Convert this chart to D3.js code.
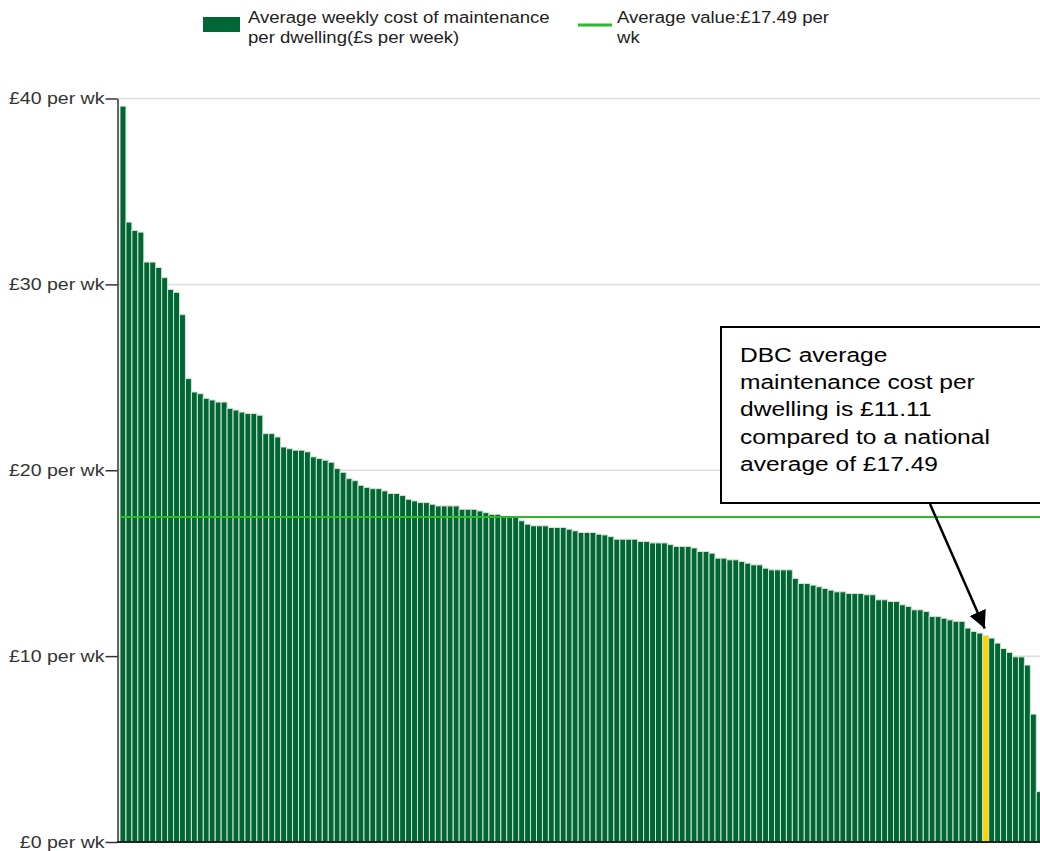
<!DOCTYPE html>
<html>
<head>
<meta charset="utf-8">
<script src="https://cdn.jsdelivr.net/npm/d3@7"></script>
<style>
  body { margin: 0; background: #fff; }
  svg { display: block; font-family: Arial, "Liberation Sans", sans-serif; }
</style>
</head>
<body>
<svg width="1040" height="851"></svg>
<script>
// average weekly maintenance cost per dwelling, sorted high to low (£ per week)
const values = [
	39.59, 33.35, 32.90, 32.81, 31.20, 31.20, 30.91, 30.36, 29.73, 29.57,
	28.37, 24.93, 24.21, 24.12, 23.87, 23.78, 23.67, 23.67, 23.33, 23.24,
	23.13, 23.05, 23.05, 22.96, 21.97, 21.97, 21.79, 21.25, 21.16, 21.08,
	21.08, 20.99, 20.72, 20.63, 20.54, 20.43, 20.09, 19.89, 19.55, 19.44,
	19.19, 19.08, 19.01, 19.01, 18.89, 18.75, 18.75, 18.64, 18.44, 18.35,
	18.26, 18.26, 18.17, 18.08, 18.08, 18.08, 18.08, 17.90, 17.90, 17.90,
	17.81, 17.72, 17.63, 17.63, 17.52, 17.50, 17.50, 17.28, 17.10, 17.01,
	17.01, 17.01, 16.92, 16.92, 16.92, 16.83, 16.74, 16.65, 16.65, 16.65,
	16.56, 16.52, 16.43, 16.29, 16.29, 16.29, 16.29, 16.17, 16.17, 16.09,
	16.09, 16.09, 16.00, 15.90, 15.90, 15.90, 15.82, 15.63, 15.63, 15.54,
	15.27, 15.27, 15.18, 15.18, 15.09, 15.00, 14.91, 14.91, 14.73, 14.64,
	14.64, 14.64, 14.64, 14.18, 13.91, 13.91, 13.82, 13.73, 13.64, 13.55,
	13.46, 13.46, 13.37, 13.37, 13.37, 13.30, 13.30, 13.03, 13.03, 12.94,
	12.94, 12.76, 12.67, 12.49, 12.49, 12.40, 12.13, 12.13, 12.04, 11.95,
	11.87, 11.87, 11.51, 11.33, 11.24, 11.11, 10.97, 10.70, 10.41, 10.20,
	9.96, 9.96, 9.52, 6.88, 2.71
];
const highlightIndex = 145;   // DBC
const averageValue = 17.49;
const yTicks = [0, 10, 20, 30, 40];
const legendLabels = [
	["Average weekly cost of maintenance", "per dwelling(£s per week)"],
	["Average value:£17.49 per", "wk"]
];
const noteLines = [
	"DBC average",
	"maintenance cost per",
	"dwelling is £11.11",
	"compared to a national",
	"average of £17.49"
];

const svg = d3.select("svg");
const barColor = "#006633";
const highlightColor = "#ffd200";
const avgColor = "#2dba2d";

const x = d3.scaleBand()
	.domain(d3.range(values.length))
	.range([120, 120 + values.length * 5.95])
	.padding(0);

const y = d3.scaleLinear()
	.domain([0, 40])
	.range([842, 98.5]);

// gridlines
svg.append("g")
	.selectAll("line")
	.data(yTicks.filter(d => d > 0))
	.enter().append("line")
	.attr("x1", 117).attr("x2", 1040)
	.attr("y1", d => y(d)).attr("y2", d => y(d))
	.attr("stroke", "#dddddd")
	.attr("stroke-width", 1.5);

// bars
svg.append("g")
	.selectAll("rect")
	.data(values)
	.enter().append("rect")
	.attr("x", (d, i) => x(i))
	.attr("width", x.bandwidth())
	.attr("y", d => y(d))
	.attr("height", d => y(0) - y(d))
	.attr("fill", (d, i) => i === highlightIndex ? highlightColor : barColor)
	.attr("stroke", "#d4e4d4")
	.attr("stroke-width", 1);

// average line
svg.append("line")
	.attr("x1", 120).attr("x2", 1040)
	.attr("y1", y(averageValue)).attr("y2", y(averageValue))
	.attr("stroke", avgColor)
	.attr("stroke-width", 2);

// y axis
const yAxis = svg.append("g")
	.attr("transform", "translate(117.5,0)")
	.call(d3.axisLeft(y)
		.tickValues(yTicks)
		.tickSize(12)
		.tickSizeOuter(0)
		.tickFormat(d => "£" + d + " per wk"));
yAxis.select(".domain").attr("stroke", "#333").attr("stroke-width", 1.5);
yAxis.selectAll(".tick line").attr("stroke", "#333").attr("stroke-width", 1.5);
// labels a bit wide, like the original
yAxis.selectAll(".tick text")
	.attr("x", 0)
	.attr("transform", "translate(-13,0) scale(1.15,1)")
	.attr("fill", "#333")
	.style("font-size", "17px")
	.style("font-family", "Arial, 'Liberation Sans', sans-serif");

// baseline
svg.append("line")
	.attr("x1", 117).attr("x2", 1040)
	.attr("y1", y(0)).attr("y2", y(0))
	.attr("stroke", "#222")
	.attr("stroke-width", 2);

// legend
const legend = svg.append("g").style("font-size", "16px").attr("fill", "#222");
legend.append("rect")
	.attr("x", 203).attr("y", 17).attr("width", 37).attr("height", 15)
	.attr("fill", barColor);
legend.append("line")
	.attr("x1", 578).attr("x2", 612).attr("y1", 25).attr("y2", 25)
	.attr("stroke", avgColor).attr("stroke-width", 3);
[248, 617].forEach((lx, k) => {
	legend.append("text")
		.attr("transform", "translate(" + lx + ",23) scale(1.16,1)")
		.selectAll("tspan")
		.data(legendLabels[k])
		.enter().append("tspan")
		.attr("x", 0)
		.attr("dy", (d, i) => i ? 20 : 0)
		.text(d => d);
});

// annotation
const note = svg.append("g");
note.append("rect")
	.attr("x", 721).attr("y", 327).attr("width", 330).attr("height", 176)
	.attr("fill", "#fff").attr("stroke", "#000").attr("stroke-width", 2);
note.append("text")
	.attr("transform", "translate(740,362) scale(1.17,1)")
	.style("font-size", "21px")
	.attr("fill", "#000")
	.selectAll("tspan")
	.data(noteLines)
	.enter().append("tspan")
	.attr("x", 0)
	.attr("dy", (d, i) => i ? 27.2 : 0)
	.text(d => d);

svg.append("defs").append("marker")
	.attr("id", "arrow")
	.attr("viewBox", "0 0 10 10")
	.attr("refX", 10).attr("refY", 5)
	.attr("markerWidth", 7).attr("markerHeight", 7)
	.attr("orient", "auto")
	.append("path")
	.attr("d", "M0,0L10,5L0,10z")
	.attr("fill", "#000");

const tipX = x(highlightIndex) + x.bandwidth() / 2 - 1;
const tipY = y(values[highlightIndex]) - 7;
note.append("line")
	.attr("x1", 930).attr("y1", 504)
	.attr("x2", tipX).attr("y2", tipY)
	.attr("stroke", "#000")
	.attr("stroke-width", 2.5)
	.attr("marker-end", "url(#arrow)");
</script>
</body>
</html>
